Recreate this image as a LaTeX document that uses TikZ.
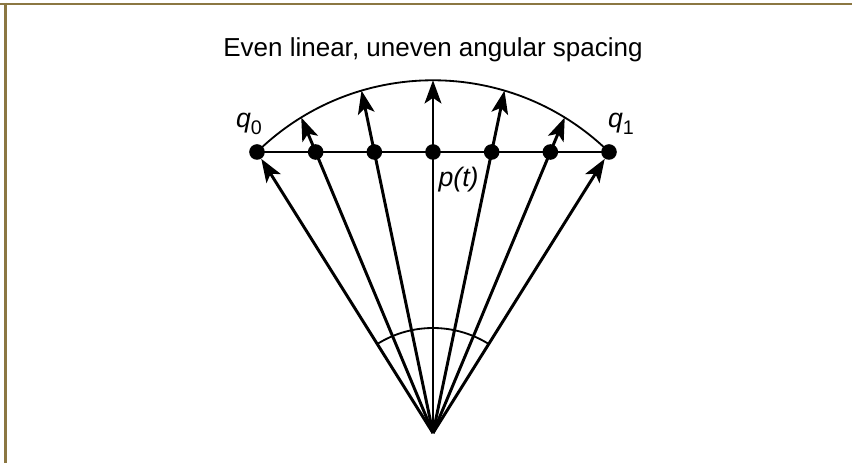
\documentclass[tikz,border=0pt]{standalone}
\usepackage{fontspec}
\setmainfont{Liberation Sans}
\usepackage{tikz}
\usetikzlibrary{arrows.meta, calc}
\definecolor{FrameGold}{HTML}{8B7742}
\definecolor{InkBlack}{HTML}{000000}
\definecolor{PaperWhite}{HTML}{ffffff}
\newcommand{\lowsub}[1]{\raisebox{-0.45ex}{\fontsize{14}{16}\selectfont\upshape #1}}
\tikzset{
    % Node styles
    pointdot/.style={
        circle,
        fill=InkBlack,
        inner sep=0pt,
        minimum size=0.39cm
    },
    labeltext/.style={
        anchor=base,
        inner sep=0pt,
        font=\fontsize{19}{22}\selectfont\itshape
    },
    titletext/.style={
        anchor=base,
        inner sep=0pt,
        font=\fontsize{18.5}{22}\selectfont
    },
    % Line styles
    rayarrow/.style={
        -{Stealth[length=0.58cm,width=0.42cm,inset=0.14cm]},
        line width=2.1pt,
        InkBlack
    },
    plainline/.style={
        line width=1.3pt,
        InkBlack
    },
    frameline/.style={
        FrameGold
    }
}

\begin{document}
\begin{tikzpicture}
    % Page and frame
    \fill[PaperWhite] (-10.825,-0.75) rectangle (10.475,10.825);
    \useasboundingbox (-10.825,-0.75) rectangle (10.475,10.825);
    \draw[frameline,line width=1.4pt] (-10.825,10.725) -- (10.475,10.725);
    \draw[frameline,line width=2.1pt] (-10.6875,10.75) -- (-10.6875,-0.75);

    % Title
    \node[titletext] (title) at (0,9.4) {Even linear, uneven angular spacing};

    % Apex and points on the chord
    \coordinate (O) at (0,0);
    \foreach \i in {0,...,6} {
        \pgfmathsetmacro{\px}{-4.4+\i*8.8/6}
        \node[pointdot] (p\i) at (\px,7.025) {};
    }

    % Ends of the rays on the outer arc
    \pgfmathsetmacro{\cy}{2.525}
    \pgfmathsetmacro{\rr}{sqrt(4.4*4.4+4.5*4.5)}
    \foreach \i in {1,...,5} {
        \pgfmathsetmacro{\px}{-4.4+\i*8.8/6}
        \pgfmathsetmacro{\len}{sqrt(\px*\px+7.025*7.025)}
        \pgfmathsetmacro{\b}{\cy*7.025/\len}
        \pgfmathsetmacro{\t}{\b+sqrt(\b*\b-\cy*\cy+\rr*\rr)}
        \coordinate (t\i) at ({\t*\px/\len},{\t*7.025/\len});
    }

    % Chord and arcs
    \draw[plainline] (p0.center) -- (p6.center);
    \draw[plainline] (p0.center) arc[start angle=134.35, end angle=45.65, radius=\rr];
    \draw[plainline] (O) ++(57.94:2.625) arc[start angle=57.94, end angle=122.06, radius=2.625];

    % Rays
    \draw[rayarrow] (O) -- (p0);
    \draw[rayarrow] (O) -- (p6);
    \foreach \i in {1,...,5} {
        \draw[rayarrow] (O) -- (t\i);
    }

    % Labels
    \node[labeltext] (q0lab) at (-4.6,7.625) {q\lowsub{0}};
    \node[labeltext] (q1lab) at (4.7,7.625) {q\lowsub{1}};
    \node[labeltext] (ptlab) at (0.64,6.15) {p(t)};
\end{tikzpicture}
\end{document}
